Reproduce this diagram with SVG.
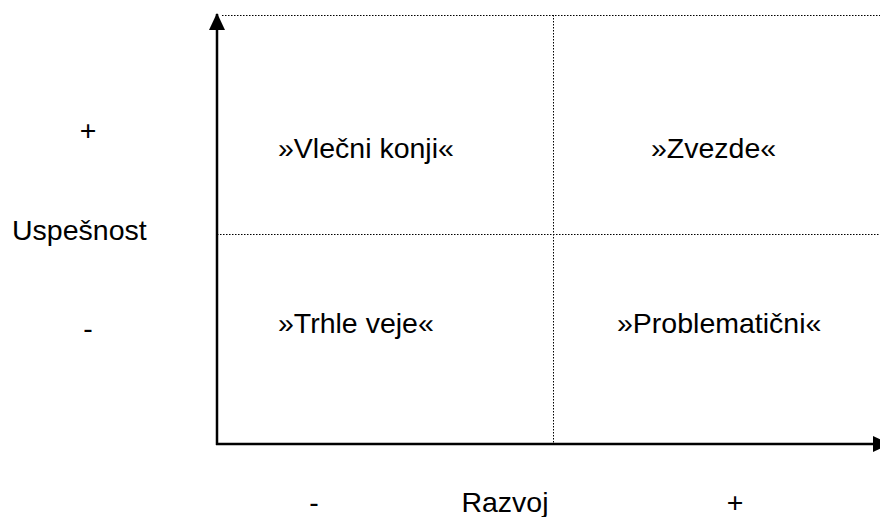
<svg xmlns="http://www.w3.org/2000/svg" width="880" height="517" viewBox="0 0 880 517">
<style>
text{font-family:"Liberation Sans",Arial,sans-serif;font-size:28.5px;fill:#000}
.axis{stroke:#000;stroke-width:2.5;fill:none}
.dot{stroke:#000;stroke-width:1;stroke-dasharray:1.5 1.5;fill:none}
</style>
<defs>
<marker id="ah" viewBox="0 0 17 16" refX="16" refY="8" markerWidth="17" markerHeight="16" markerUnits="userSpaceOnUse" orient="auto"><path d="M0,0 L17,8 L0,16 z" fill="#000"/></marker>
</defs>
<g id="connectors">
<line class="dot" x1="222" y1="15.5" x2="880" y2="15.5"/>
<line class="dot" x1="217" y1="234.5" x2="880" y2="234.5"/>
<line class="dot" x1="553.5" y1="15" x2="553.5" y2="444"/>
<line class="axis" x1="217" y1="445" x2="217" y2="14" marker-end="url(#ah)"/>
<line class="axis" x1="216" y1="444" x2="889" y2="444" marker-end="url(#ah)"/>
</g>
<g id="y-plus"><text x="88" y="140" text-anchor="middle">+</text></g>
<g id="y-label"><text x="12" y="240">Uspešnost</text></g>
<g id="y-minus"><text x="88" y="338" text-anchor="middle">-</text></g>
<g id="q-tl"><text x="278" y="158">»Vlečni konji«</text></g>
<g id="q-tr"><text x="651" y="158">»Zvezde«</text></g>
<g id="q-bl"><text x="278" y="333">»Trhle veje«</text></g>
<g id="q-br"><text x="617" y="333">»Problematični«</text></g>
<g id="x-minus"><text x="314" y="512" text-anchor="middle">-</text></g>
<g id="x-label"><text x="505" y="512" text-anchor="middle">Razvoj</text></g>
<g id="x-plus"><text x="735" y="512" text-anchor="middle">+</text></g>
</svg>
